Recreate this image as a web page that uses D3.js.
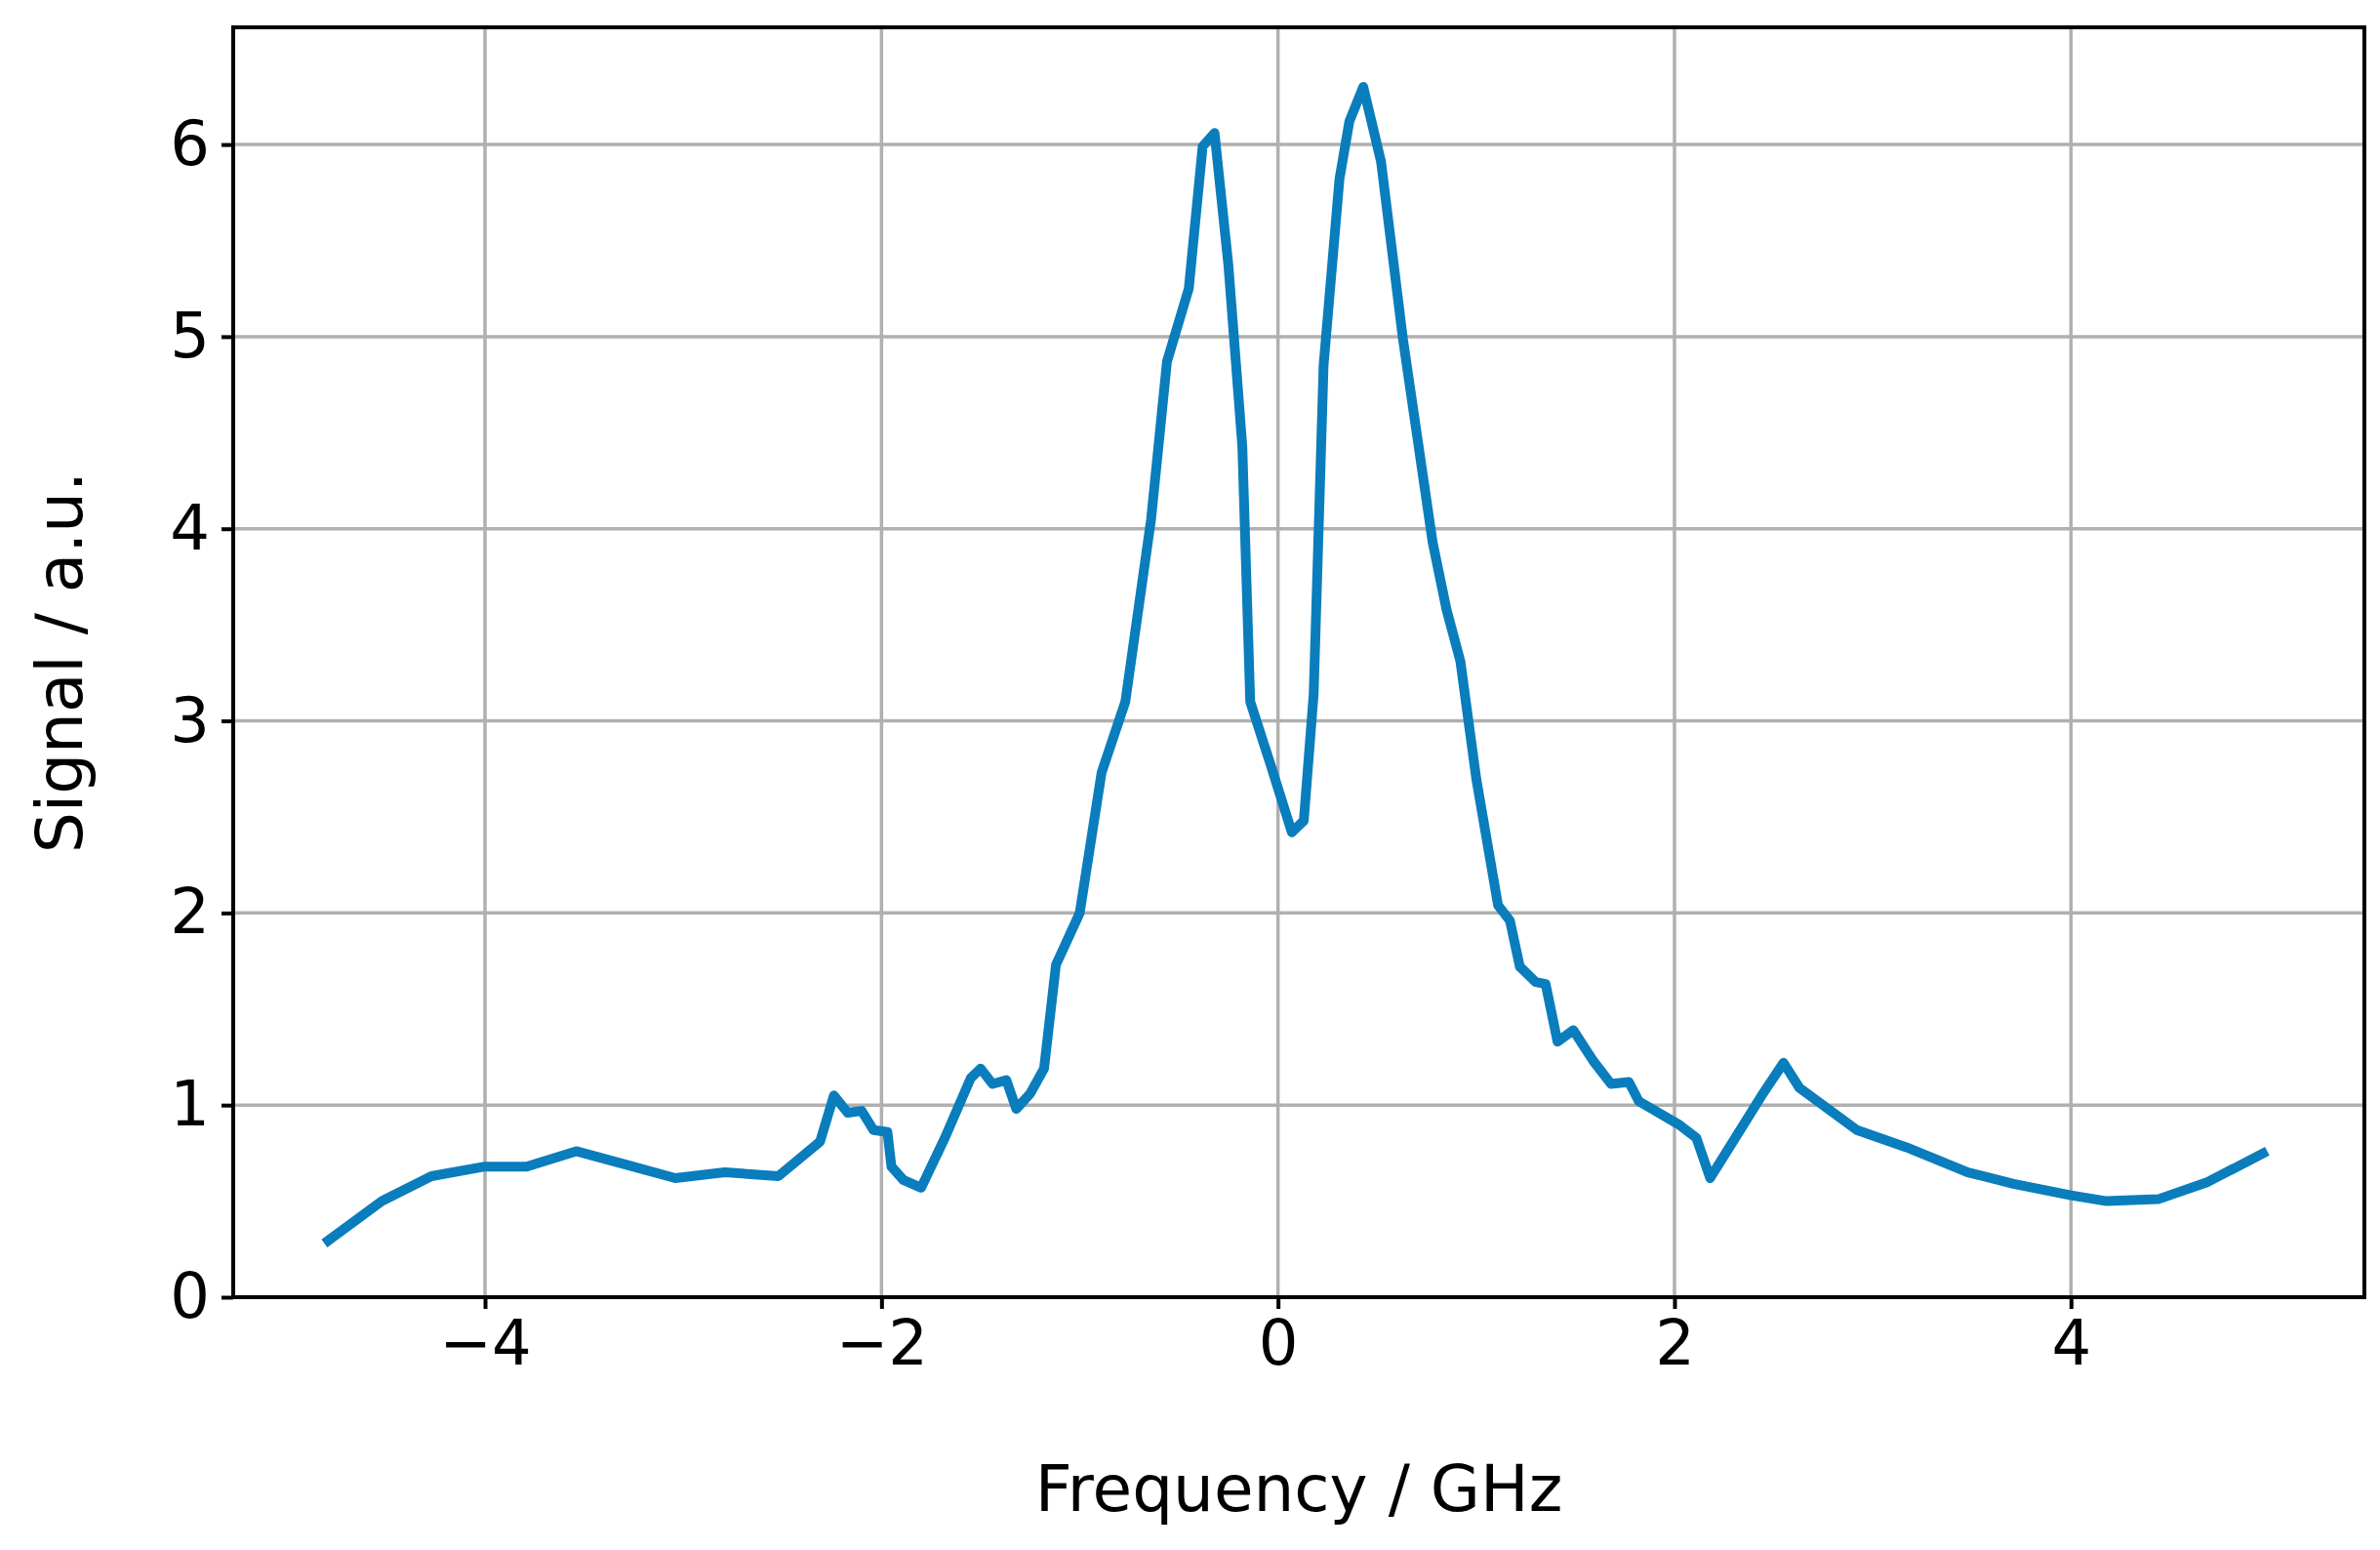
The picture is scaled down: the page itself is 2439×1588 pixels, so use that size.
<!DOCTYPE html>
<html>
<head>
<meta charset="utf-8">
<script src="https://cdn.jsdelivr.net/npm/d3@7"></script>
<style>
  body { margin: 0; background: #fff; }
  text { font-family: "DejaVu Sans", sans-serif; fill: #000; }
</style>
</head>
<body>
<svg id="chart" width="2439" height="1588"></svg>
<script>
// frequency (GHz) and signal (a.u.)
var freq = [-4.81,-4.52,-4.27,-4.0,-3.79,-3.54,-3.29,-3.04,-2.79,-2.52,-2.31,-2.24,-2.17,-2.10,-2.04,-1.97,-1.95,-1.89,-1.80,-1.68,-1.55,-1.50,-1.44,-1.37,-1.32,-1.25,-1.18,-1.12,-1.0,-0.89,-0.77,-0.64,-0.56,-0.45,-0.38,-0.32,-0.25,-0.18,-0.14,-0.04,0.07,0.13,0.18,0.23,0.31,0.36,0.43,0.52,0.63,0.78,0.85,0.92,1.0,1.11,1.17,1.22,1.30,1.35,1.41,1.49,1.59,1.68,1.77,1.82,2.02,2.11,2.18,2.44,2.55,2.63,2.92,3.17,3.48,3.71,4.0,4.18,4.44,4.69,4.99];
var signal = [0.28,0.50,0.63,0.68,0.68,0.76,0.69,0.62,0.65,0.63,0.81,1.05,0.96,0.97,0.87,0.86,0.68,0.61,0.57,0.83,1.14,1.19,1.11,1.13,0.98,1.06,1.19,1.73,2.0,2.73,3.1,4.05,4.87,5.25,5.99,6.06,5.37,4.43,3.1,2.78,2.42,2.48,3.14,4.85,5.82,6.12,6.30,5.91,4.99,3.93,3.58,3.31,2.70,2.04,1.96,1.72,1.64,1.63,1.33,1.39,1.23,1.11,1.12,1.02,0.9,0.83,0.62,1.05,1.22,1.09,0.87,0.78,0.65,0.59,0.53,0.50,0.51,0.60,0.76];
var xTicks = [-4, -2, 0, 2, 4];
var yTicks = [0, 1, 2, 3, 4, 5, 6];

var svg = d3.select("#chart");
var margin = {top: 28, right: 16, bottom: 259, left: 239};
var width = 2439 - margin.left - margin.right,
    height = 1588 - margin.top - margin.bottom;

var x = d3.scaleLinear().domain([-5.27, 5.48]).range([0, width]);
var y = d3.scaleLinear().domain([0, 6.61]).range([height, 0]);

var g = svg.append("g").attr("transform", "translate(" + margin.left + "," + margin.top + ")");

// grid
g.selectAll(".vgrid").data(xTicks).enter().append("line")
    .attr("x1", d => x(d)).attr("x2", d => x(d)).attr("y1", 0).attr("y2", height)
    .attr("stroke", "#b0b0b0").attr("stroke-width", 3.5);
g.selectAll(".hgrid").data(yTicks).enter().append("line")
    .attr("y1", d => y(d)).attr("y2", d => y(d)).attr("x1", 0).attr("x2", width)
    .attr("stroke", "#b0b0b0").attr("stroke-width", 3.5);

var fmt = d => d < 0 ? "\u2212" + Math.abs(d) : String(d);

var xAxis = g.append("g").attr("transform", "translate(0," + height + ")")
    .call(d3.axisBottom(x).tickValues(xTicks).tickFormat(fmt).tickSize(12).tickPadding(12));
var yAxis = g.append("g")
    .call(d3.axisLeft(y).tickValues(yTicks).tickFormat(fmt).tickSize(12).tickPadding(12));
[xAxis, yAxis].forEach(function (a) {
    a.select(".domain").remove();
    a.selectAll("line").attr("stroke", "#000").attr("stroke-width", 4);
    a.selectAll("text").style("font-size", "64px").style("font-family", "DejaVu Sans");
});

// line
g.append("path")
    .datum(freq.map((f, i) => [f, signal[i]]))
    .attr("fill", "none")
    .attr("stroke", "#0a7dbd")
    .attr("stroke-width", 10)
    .attr("stroke-linejoin", "round")
    .attr("d", d3.line().x(d => x(d[0])).y(d => y(d[1])));

// frame
g.append("rect").attr("width", width).attr("height", height)
    .attr("fill", "none").attr("stroke", "#000").attr("stroke-width", 4);

svg.append("text").attr("x", margin.left + width / 2).attr("y", 1548)
    .attr("text-anchor", "middle").style("font-size", "66px").text("Frequency / GHz");
svg.append("text").attr("transform", "translate(84," + (margin.top + height / 2) + ") rotate(-90)")
    .attr("text-anchor", "middle").style("font-size", "66px").text("Signal / a.u.");
</script>
</body>
</html>
